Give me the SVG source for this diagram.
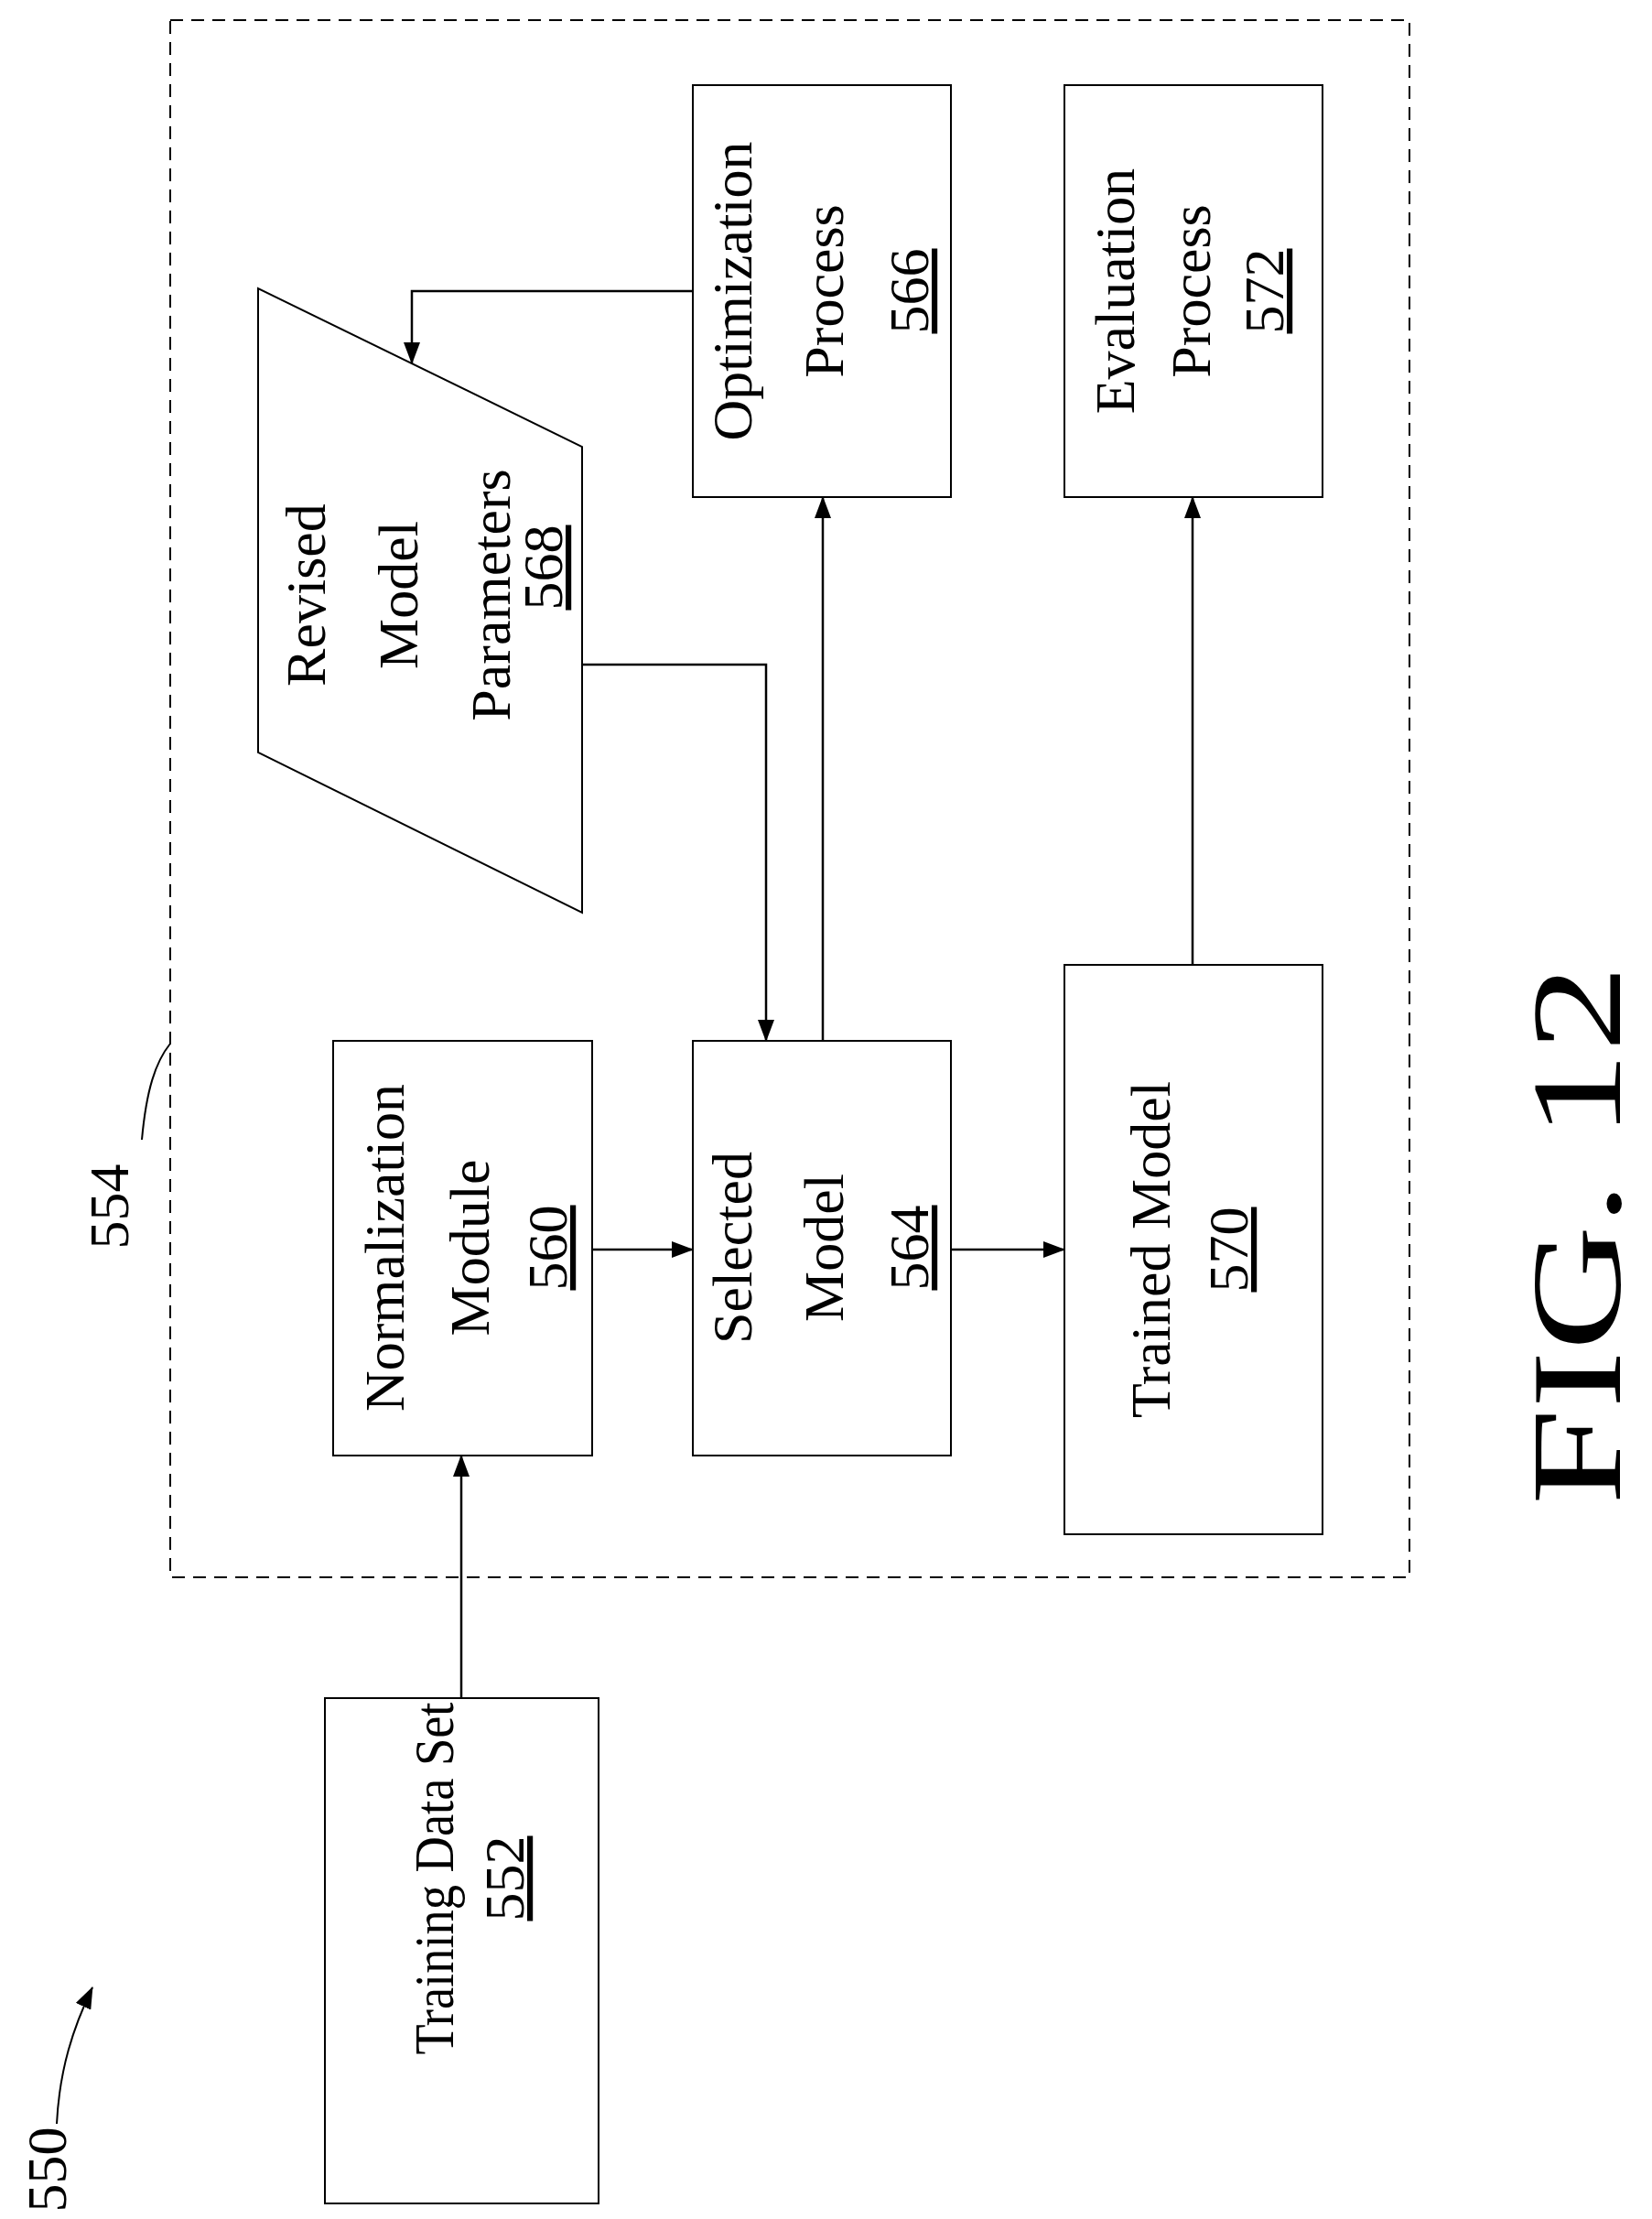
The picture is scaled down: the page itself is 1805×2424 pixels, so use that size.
<svg xmlns="http://www.w3.org/2000/svg" width="1805" height="2424" viewBox="0 0 1805 2424">
<style>
.b{fill:#fff;stroke:#000;stroke-width:2}
.c{fill:none;stroke:#000;stroke-width:2.5}
text{font-family:"Liberation Serif",serif;font-size:62px;fill:#000;text-anchor:middle}
.u{text-decoration:underline}
</style>
<defs><marker id="ab" markerWidth="24" markerHeight="18" refX="23" refY="9" orient="auto" markerUnits="userSpaceOnUse" viewBox="0 0 24 18"><path d="M0,0L24,9L0,18Z" fill="#000"/></marker></defs>
<rect x="186" y="22" width="1354" height="1701" fill="none" stroke="#000" stroke-width="2" stroke-dasharray="14,9"/>
<g id="n552"><rect class="b" x="355" y="1855" width="299" height="552"/>
<text transform="translate(495,2052) rotate(-90)" textLength="385" lengthAdjust="spacingAndGlyphs">Training Data Set</text>
<text class="u" transform="translate(572,2052) rotate(-90)">552</text></g>
<g id="n560"><rect class="b" x="364" y="1137" width="283" height="453"/>
<text transform="translate(441,1363) rotate(-90)">Normalization</text>
<text transform="translate(534,1363) rotate(-90)">Module</text>
<text class="u" transform="translate(619,1363) rotate(-90)">560</text></g>
<g id="n564"><rect class="b" x="757" y="1137" width="282" height="453"/>
<text transform="translate(821,1363) rotate(-90)">Selected</text>
<text transform="translate(921,1363) rotate(-90)">Model</text>
<text class="u" transform="translate(1014,1363) rotate(-90)">564</text></g>
<g id="n570"><rect class="b" x="1163" y="1054" width="282" height="622"/>
<text transform="translate(1278,1365) rotate(-90)">Trained Model</text>
<text class="u" transform="translate(1363,1365) rotate(-90)">570</text></g>
<g id="n566"><rect class="b" x="757" y="93" width="282" height="450"/>
<text transform="translate(821,318) rotate(-90)">Optimization</text>
<text transform="translate(921,318) rotate(-90)">Process</text>
<text class="u" transform="translate(1014,318) rotate(-90)">566</text></g>
<g id="n572"><rect class="b" x="1163" y="93" width="282" height="450"/>
<text transform="translate(1239,318) rotate(-90)">Evaluation</text>
<text transform="translate(1322,318) rotate(-90)">Process</text>
<text class="u" transform="translate(1402,318) rotate(-90)">572</text></g>
<g id="n568"><polygon class="b" points="282,315 282,822 636,997 636,488"/>
<text transform="translate(355,650) rotate(-90)">Revised</text>
<text transform="translate(456,650) rotate(-90)">Model</text>
<text transform="translate(557,650) rotate(-90)">Parameters</text>
<text class="u" transform="translate(614,620) rotate(-90)">568</text></g>
<g id="labels">
<text transform="translate(140,1318) rotate(-90)">554</text>
<text transform="translate(72,2370) rotate(-90)">550</text>
<text transform="translate(1770,1349) rotate(-90)" style="font-size:140px" textLength="590" lengthAdjust="spacingAndGlyphs">FIG. 12</text>
</g>
<g id="connectors">
<path class="c" d="M504,1855V1590" marker-end="url(#ab)"/>
<path class="c" d="M647,1365H757" marker-end="url(#ab)"/>
<path class="c" d="M1039,1365H1163" marker-end="url(#ab)"/>
<path class="c" d="M899,1137V543" marker-end="url(#ab)"/>
<path class="c" d="M1303,1054V543" marker-end="url(#ab)"/>
<path class="c" d="M757,318H450V397" marker-end="url(#ab)"/>
<path class="c" d="M636,726H837V1137" marker-end="url(#ab)"/>
<path fill="none" stroke="#000" stroke-width="2" d="M155,1245C160,1190 170,1160 186,1140"/>
<path fill="none" stroke="#000" stroke-width="2" d="M62,2320C65,2260 80,2215 101,2171" marker-end="url(#ab)"/>
</g>
</svg>
